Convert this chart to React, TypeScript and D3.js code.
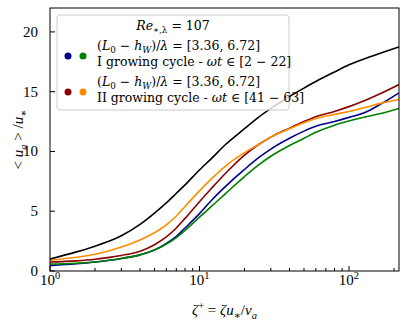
import React from "react";
import * as d3 from "d3";

// zeta+ sample points and mean velocity profiles
const zeta = [1, 1.5, 2, 2.5, 3, 4, 5, 6, 7, 8, 10, 12, 15, 20, 25, 30, 40, 50, 60, 80, 100, 130, 160, 216];
const blackU = [1.0, 1.6, 2.08, 2.5, 2.95, 3.9, 4.85, 5.7, 6.5, 7.2, 8.45, 9.4, 10.6, 11.9, 12.9, 13.6, 14.6, 15.3, 15.85, 16.65, 17.25, 17.8, 18.2, 18.75];
const blueU = [0.45, 0.6, 0.75, 0.9, 1.05, 1.35, 1.75, 2.3, 2.9, 3.6, 4.8, 5.9, 7.1, 8.5, 9.5, 10.2, 11.1, 11.7, 12.1, 12.5, 12.85, 13.3, 13.9, 14.9];
const greenU = [0.58, 0.65, 0.75, 0.9, 1.05, 1.35, 1.75, 2.25, 2.8, 3.4, 4.5, 5.4, 6.5, 7.9, 8.9, 9.6, 10.5, 11.1, 11.6, 12.2, 12.55, 12.9, 13.15, 13.6];
const redU = [0.75, 0.85, 0.98, 1.14, 1.3, 1.65, 2.2, 2.85, 3.6, 4.4, 5.8, 6.9, 8.2, 9.7, 10.6, 11.2, 11.95, 12.5, 12.9, 13.35, 13.75, 14.3, 14.8, 15.6];
const orangeU = [0.9, 1.15, 1.4, 1.7, 2.0, 2.6, 3.2, 3.85, 4.6, 5.4, 6.7, 7.7, 8.8, 9.9, 10.6, 11.2, 11.9, 12.4, 12.75, 13.1, 13.35, 13.7, 14.0, 14.35];

const yTicks = [0, 5, 10, 15, 20];
const xMajor = [1, 10, 100];
const xMinor = [2, 3, 4, 5, 6, 7, 8, 9, 20, 30, 40, 50, 60, 70, 80, 90, 200];

const series = [
  { values: blueU, color: "#00008b" },
  { values: greenU, color: "#008000" },
  { values: redU, color: "#8b0000" },
  { values: orangeU, color: "#ff8c00" },
  { values: blackU, color: "#000000" },
];

const FONT = "'Liberation Serif', 'DejaVu Serif', serif";
const LEG_FONT = "'DejaVu Serif', serif";

type Seg = { t: string; it?: boolean; sub?: boolean; sup?: boolean };

// small mathtext-ish renderer: italic / sub / sup via tspans
function MathText({ segs, size }: { segs: Seg[]; size: number }) {
  let shift = 0;
  return (
    <>
      {segs.map((s, i) => {
        const target = s.sub ? size * 0.25 : s.sup ? -size * 0.4 : 0;
        const dy = target - shift;
        shift = target;
        return (
          <tspan
            key={i}
            dy={dy}
            fontStyle={s.it ? "italic" : "normal"}
            fontSize={s.sub || s.sup ? size * 0.7 : size}
          >
            {s.t}
          </tspan>
        );
      })}
    </>
  );
}

const ratioSegs: Seg[] = [
  { t: "(" }, { t: "L", it: true }, { t: "0", sub: true }, { t: " − " }, { t: "h", it: true },
  { t: "W", it: true, sub: true }, { t: ")/" }, { t: "λ", it: true }, { t: " = [3.36, 6.72]" },
];
const cycle1: Seg[] = [{ t: "I growing cycle - " }, { t: "ωt", it: true }, { t: " ∈ [2 − 22]" }];
const cycle2: Seg[] = [{ t: "II growing cycle - " }, { t: "ωt", it: true }, { t: " ∈ [41 − 63]" }];
const titleSegs: Seg[] = [{ t: "Re", it: true }, { t: "∗,λ", sub: true }, { t: " = 107" }];
const xLabel: Seg[] = [
  { t: "ζ", it: true }, { t: "+", sup: true }, { t: " = " }, { t: "ζu", it: true }, { t: "∗", sub: true },
  { t: "/" }, { t: "ν", it: true }, { t: "a", it: true, sub: true },
];
const yLabel: Seg[] = [
  { t: "< " }, { t: "u", it: true }, { t: "a", it: true, sub: true }, { t: " > /" }, { t: "u", it: true }, { t: "∗", sub: true },
];

export default function App() {
  const W = 407, H = 321;
  const left = 50, right = 399, top = 8, bottom = 271;
  const x = d3.scaleLog().domain([1, 216]).range([left, right]);
  const y = d3.scaleLinear().domain([0, 22]).range([bottom, top]);
  const line = d3
    .line<number>()
    .x((_, i) => x(zeta[i]))
    .y((d) => y(d))
    .curve(d3.curveMonotoneX);

  const legSize = 12.5;

  return (
    <svg width={W} height={H} style={{ position: "absolute", left: 0, top: 0, background: "#fff" }} fontFamily={FONT}>
      <defs>
        <clipPath id="plot">
          <rect x={left} y={top} width={right - left} height={bottom - top} />
        </clipPath>
      </defs>
      <g clipPath="url(#plot)">
        {series.map((s, i) => (
          <path key={i} d={line(s.values) || ""} fill="none" stroke={s.color} strokeWidth={1.6} />
        ))}
      </g>

      {/* legend */}
      <g fontFamily={LEG_FONT}>
        <rect x={57} y={15} width={232} height={95} rx={3} fill="#fff" fillOpacity={0.8} stroke="#cccccc" strokeWidth={1} />
        <text x={173} y={30} textAnchor="middle" fontSize={legSize}>
          <MathText segs={titleSegs} size={legSize} />
        </text>
        <circle cx={68} cy={56} r={3.5} fill="#00008b" />
        <circle cx={83} cy={56} r={3.5} fill="#008000" />
        <circle cx={68} cy={92} r={3.5} fill="#8b0000" />
        <circle cx={83} cy={92} r={3.5} fill="#ff8c00" />
        <text x={97} y={50} fontSize={legSize}><MathText segs={ratioSegs} size={legSize} /></text>
        <text x={97} y={66} fontSize={legSize}><MathText segs={cycle1} size={legSize} /></text>
        <text x={97} y={86} fontSize={legSize}><MathText segs={ratioSegs} size={legSize} /></text>
        <text x={97} y={102} fontSize={legSize}><MathText segs={cycle2} size={legSize} /></text>
      </g>

      {/* frame */}
      <rect x={left} y={top} width={right - left} height={bottom - top} fill="none" stroke="#000" strokeWidth={1} />

      {/* x ticks */}
      {xMajor.map((v) => (
        <g key={"M" + v}>
          <line x1={x(v)} x2={x(v)} y1={bottom} y2={bottom - 5} stroke="#000" />
          <text x={x(v)} y={285} textAnchor="middle" fontSize={15}>
            <tspan>10</tspan>
            <tspan dy={-6} fontSize={10.5}>{Math.round(Math.log10(v))}</tspan>
          </text>
        </g>
      ))}
      {xMinor.map((v) => (
        <line key={"m" + v} x1={x(v)} x2={x(v)} y1={bottom} y2={bottom - 3} stroke="#000" />
      ))}

      {/* y ticks */}
      {yTicks.map((v) => (
        <g key={"y" + v}>
          <line x1={left} x2={left + 5} y1={y(v)} y2={y(v)} stroke="#000" />
          <text x={38} y={y(v) + 5} textAnchor="end" fontSize={15}>{v}</text>
        </g>
      ))}

      <text x={(left + right) / 2} y={315} textAnchor="middle" fontSize={15}>
        <MathText segs={xLabel} size={15} />
      </text>
      <text transform={`translate(23,${(top + bottom) / 2}) rotate(-90)`} textAnchor="middle" fontSize={15}>
        <MathText segs={yLabel} size={15} />
      </text>
    </svg>
  );
}
